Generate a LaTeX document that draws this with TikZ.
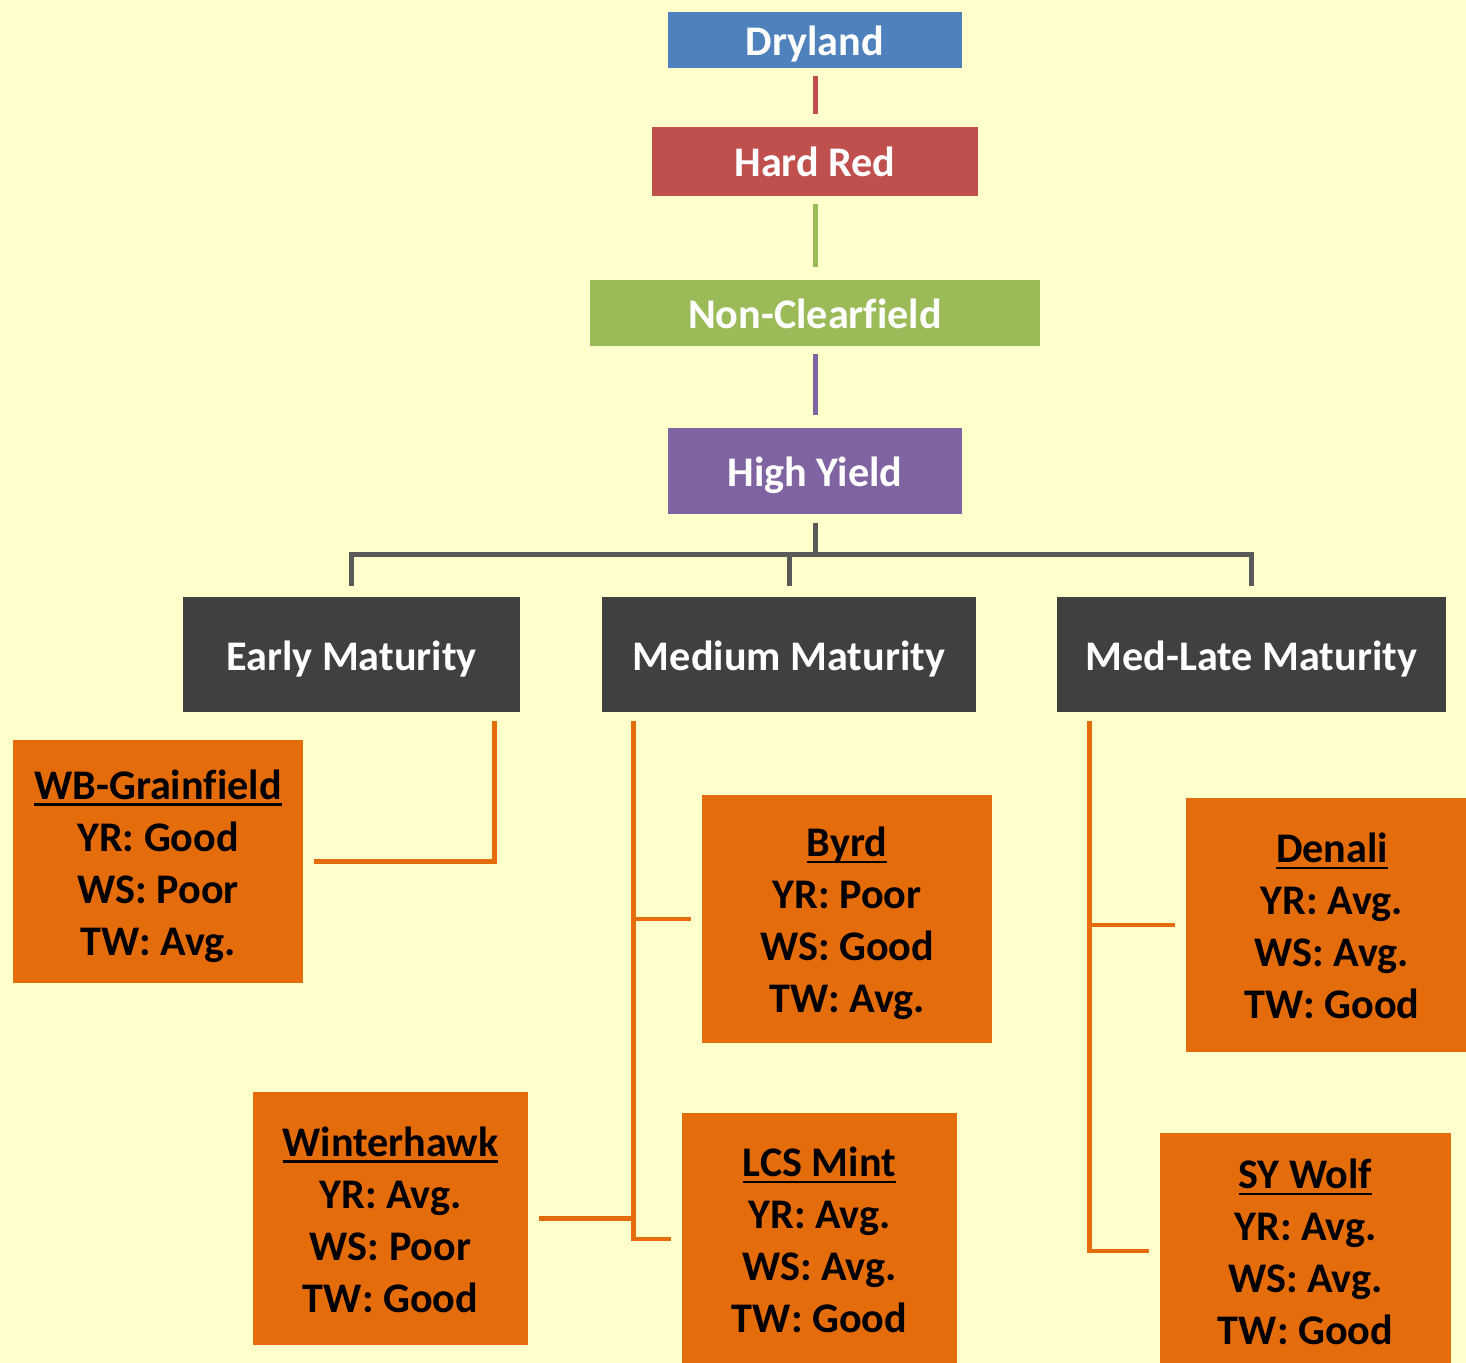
\documentclass[tikz,border=0pt]{standalone}
\usepackage{fontspec}
\setmainfont{Carlito}[Ligatures=CommonOff]
\usetikzlibrary{calc}
\definecolor{bgyellow}{HTML}{FFFFCC}
\definecolor{dryblue}{HTML}{4F81BD}
\definecolor{hardred}{HTML}{C0504D}
\definecolor{ncgreen}{HTML}{9BBB59}
\definecolor{hypurple}{HTML}{8064A2}
\definecolor{matgray}{HTML}{404040}
\definecolor{linkgray}{HTML}{595959}
\definecolor{varorange}{HTML}{E46C0A}
\newcommand{\vname}[1]{\rule{0pt}{0.44cm}\setbox0=\hbox{#1}\rlap{\rule[-1.9pt]{\wd0}{0.8pt}}\box0}
\newcommand{\vend}{\rule[-0.124cm]{0pt}{0pt}}
\begin{document}
\begin{tikzpicture}[
  topbox/.style={fill=#1, text=white, inner sep=0pt, text height=0.39cm, text depth=0.08cm, font=\bfseries\fontsize{12}{14.8}\selectfont},
  varbox/.style={fill=varorange, text=black, align=center, inner sep=0pt, minimum width=2.90cm, font=\bfseries\fontsize{12}{14.8}\selectfont},
  uplink/.style={draw=#1, line width=0.05cm, shorten <=0.07cm, shorten >=0.12cm},
  matlink/.style={draw=linkgray, line width=0.05cm, shorten <=0.08cm, shorten >=0.1cm},
  varlink/.style={draw=varorange, line width=0.045cm, shorten <=0.08cm, shorten >=0.1cm}]
\fill[bgyellow] (0,0) rectangle (14.66,-13.63);
\useasboundingbox (0,0) rectangle (14.66,-13.63);
\clip (0,0) rectangle (14.66,-13.63);
\node[topbox=dryblue, minimum width=2.94cm, minimum height=0.56cm] (dry) at (8.15,-0.40) {Dryland};
\node[topbox=hardred, minimum width=3.26cm, minimum height=0.69cm] (red) at (8.15,-1.615) {Hard Red};
\node[topbox=ncgreen, minimum width=4.50cm, minimum height=0.66cm] (noncf) at (8.15,-3.13) {Non-Clearfield};
\node[topbox=hypurple, minimum width=2.94cm, minimum height=0.86cm] (hy) at (8.15,-4.71) {High Yield};
\draw[uplink=hardred] (dry) -- (red);
\draw[uplink=ncgreen] (red) -- (noncf);
\draw[uplink=hypurple] (noncf) -- (hy);
\node[topbox=matgray, minimum width=3.37cm, minimum height=1.15cm] (early) at (3.515,-6.545) {Early Maturity};
\node[topbox=matgray, minimum width=3.74cm, minimum height=1.15cm] (medium) at (7.89,-6.545) {Medium Maturity};
\node[topbox=matgray, minimum width=3.89cm, minimum height=1.15cm] (medlate) at (12.515,-6.545) {Med-Late Maturity};
\coordinate (bus) at (8.15,-5.55);
\draw[matlink] (hy.south) -- (hy.south |- bus) -| (early.north);
\draw[matlink] (hy.south) -- (hy.south |- bus) -| (medium.north);
\draw[matlink] (hy.south) -- (hy.south |- bus) -| (medlate.north);
\node[varbox, minimum height=2.43cm] (wbg) at (1.58,-8.615) {\vname{WB-Grainfield}\\YR: Good\\WS: Poor\\TW: Avg.\vend};
\node[varbox, minimum height=2.48cm] (byrd) at (8.47,-9.19) {\vname{Byrd}\\YR: Poor\\WS: Good\\TW: Avg.\vend};
\node[varbox, minimum width=2.75cm, minimum height=2.53cm] (winter) at (3.905,-12.185) {\vname{Winterhawk}\\YR: Avg.\\WS: Poor\\TW: Good\vend};
\node[varbox, minimum width=2.75cm, minimum height=2.52cm] (lcs) at (8.195,-12.39) {\vname{LCS Mint}\\YR: Avg.\\WS: Avg.\\TW: Good\vend};
\node[varbox, minimum width=2.92cm, minimum height=2.54cm] (denali) at (13.32,-9.25) {\vname{Denali}\\YR: Avg.\\WS: Avg.\\TW: Good\vend};
\node[varbox, minimum width=2.91cm, minimum height=2.36cm] (wolf) at (13.055,-12.51) {\vname{SY Wolf}\\YR: Avg.\\WS: Avg.\\TW: Good\vend};
\coordinate (estem) at ($(early.south east)+(-0.26,0)$);
\draw[varlink] (estem) |- (wbg.east);
\coordinate (mstem) at ($(medium.south west)+(0.32,0)$);
\draw[varlink] (mstem) |- (byrd.west);
\draw[varlink] (mstem) |- (lcs.west);
\draw[varlink, shorten <=0pt] (winter.east -| mstem) -- (winter.east);
\coordinate (lstem) at ($(medlate.south west)+(0.33,0)$);
\draw[varlink] (lstem) |- (denali.west);
\draw[varlink] (lstem) |- (wolf.west);
\end{tikzpicture}
\end{document}
